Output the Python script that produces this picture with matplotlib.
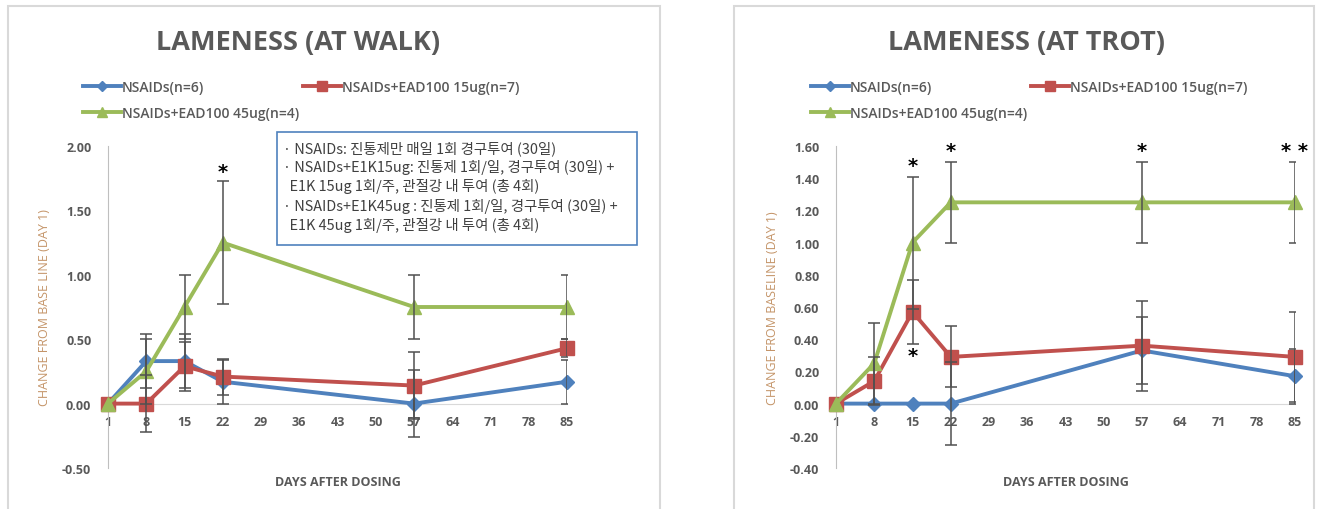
import numpy as np
import matplotlib.pyplot as plt
from matplotlib.lines import Line2D
from matplotlib.patches import Rectangle

# data
days = [1, 8, 15, 22, 57, 85]
day_ticks = list(range(1, 86, 7))

walk_nsaid = [0, 0.33, 0.33, 0.17, 0.0, 0.17]
walk_nsaid_err = [0, 0.21, 0.21, 0.17, 0.26, 0.17]
walk_15ug = [0, 0.0, 0.29, 0.21, 0.14, 0.43]
walk_15ug_err = [0, 0.22, 0.19, 0.14, 0.26, 0.07]
walk_45ug = [0, 0.25, 0.75, 1.25, 0.75, 0.75]
walk_45ug_err = [0, 0.25, 0.25, 0.48, 0.25, 0.25]

trot_nsaid = [0, 0.0, 0.0, 0.0, 0.33, 0.17]
trot_nsaid_err = [0, 0, 0, 0.26, 0.21, 0.17]
trot_15ug = [0, 0.14, 0.57, 0.29, 0.36, 0.29]
trot_15ug_err = [0, 0.15, 0.20, 0.19, 0.28, 0.28]
trot_45ug = [0, 0.25, 1.0, 1.25, 1.25, 1.25]
trot_45ug_err = [0, 0.25, 0.41, 0.25, 0.25, 0.25]

walk_stars = [(22, 1.80, '*')]
trot_stars = [(15, 1.48, '*'), (22, 1.57, '*'), (57, 1.57, '*'), (85, 1.57, '* *'), (15, 0.30, '*')]

labels = ['NSAIDs(n=6)', 'NSAIDs+EAD100 15ug(n=7)', 'NSAIDs+EAD100 45ug(n=4)']
colors = ['#4F81BD', '#C0504D', '#9BBB59']
markers = ['D', 's', '^']
msizes = [7, 10, 10]

note_lines = [
    '· NSAIDs: 진통제만 매일 1회 경구투여 (30일)',
    '· NSAIDs+E1K15ug: 진통제 1회/일, 경구투여 (30일) +',
    '  E1K 15ug 1회/주, 관절강 내 투여 (총 4회)',
    '· NSAIDs+E1K45ug : 진통제 1회/일, 경구투여 (30일) +',
    '  E1K 45ug 1회/주, 관절강 내 투여 (총 4회)',
]

plt.rcParams['font.family'] = ['Open Sans', 'DejaVu Sans']
gray = '#595959'
W, H = 1318, 510

fig = plt.figure(figsize=(W / 100, H / 100), dpi=100)


def fx(px):
    return px / W


def fy(py):
    return 1 - py / H


def panel(x0, title, series, errs, ylim, yticks, ylabel, stars, frame):
    # chart frame
    fig.patches.append(Rectangle((fx(frame[0]), fy(frame[3])), fx(frame[2] - frame[0]),
                                 fy(frame[1]) - fy(frame[3]), transform=fig.transFigure,
                                 fill=False, edgecolor='#D9D9D9', linewidth=1.5))
    ax = fig.add_axes([fx(x0), fy(469), fx(459), fy(147) - fy(469)])
    for vals, err, c, m, ms in zip(series, errs, colors, markers, msizes):
        ax.plot(days, vals, color=c, lw=2.8, marker=m, ms=ms, zorder=3, clip_on=False)
        idx = [i for i, e in enumerate(err) if e > 0]
        ax.errorbar([days[i] for i in idx], [vals[i] for i in idx],
                    yerr=[err[i] for i in idx], fmt='none', ecolor='#505050',
                    elinewidth=1.1, capsize=4, capthick=1.1, zorder=4)
    for d, v, s in stars:
        ax.text(d, v, s, ha='center', va='center', fontsize=14, fontweight='bold',
                family='DejaVu Sans', color='black')
    ax.set_xlim(1, 85)
    ax.set_ylim(*ylim)
    ax.set_xticks(day_ticks)
    ax.set_yticks(yticks)
    ax.set_yticklabels(['%.2f' % t for t in yticks])
    ax.spines['top'].set_visible(False)
    ax.spines['right'].set_visible(False)
    ax.spines['bottom'].set_position(('data', 0))
    ax.spines['bottom'].set_color('#D9D9D9')
    ax.spines['left'].set_color('#BFBFBF')
    ax.tick_params(length=0, labelsize=9, labelcolor=gray)
    ax.tick_params(axis='x', pad=8)
    ax.tick_params(axis='y', pad=12)
    for t in ax.get_xticklabels() + ax.get_yticklabels():
        t.set_fontweight('bold')
    ax.set_ylabel(ylabel, color='#C49468', fontsize=9, labelpad=8)
    fig.text(fx(x0 + 230), fy(483), 'DAYS AFTER DOSING', ha='center', va='center',
             fontsize=9, fontweight='bold', color=gray)
    fig.text(fx(x0 + 190), fy(43), title, ha='center', va='center', fontsize=19.5,
             fontweight='bold', color=gray)
    handles = [Line2D([], [], color=c, lw=2.8, marker=m, ms=ms * 0.7)
               for c, m, ms in zip(colors, markers, msizes)]
    order = [0, 2, 1]
    fig.legend([handles[i] for i in order], [labels[i] for i in order], ncol=2,
               loc='upper left', bbox_to_anchor=(fx(x0 - 25), fy(81)), frameon=False,
               prop={'size': 10, 'weight': 'semibold'}, handlelength=2.7,
               handletextpad=0.1, columnspacing=0.3, labelspacing=0.85,
               borderpad=0, borderaxespad=0, labelcolor=gray)
    return ax


ax1 = panel(108, 'LAMENESS (AT WALK)', [walk_nsaid, walk_15ug, walk_45ug],
            [walk_nsaid_err, walk_15ug_err, walk_45ug_err], (-0.5, 2.0),
            np.arange(-0.5, 2.01, 0.5), 'CHANGE FROM BASE LINE (DAY 1)', walk_stars,
            (8, 7, 660, 515))
ax2 = panel(836, 'LAMENESS (AT TROT)', [trot_nsaid, trot_15ug, trot_45ug],
            [trot_nsaid_err, trot_15ug_err, trot_45ug_err], (-0.4, 1.6),
            np.arange(-0.4, 1.61, 0.2), 'CHANGE FROM BASELINE (DAY 1)', trot_stars,
            (734, 7, 1314, 515))

# note box on the walk chart
fig.patches.append(Rectangle((fx(277), fy(246)), fx(360), fy(133) - fy(246),
                             transform=fig.transFigure, facecolor='white',
                             edgecolor='#4F81BD', linewidth=1.2, zorder=5))
fig.text(fx(283), fy(141), '\n'.join(note_lines), ha='left', va='top', fontsize=10.4,
         family=['Noto Sans CJK KR', 'DejaVu Sans'], color='#404040',
         linespacing=1.36, zorder=6)

fig.savefig('out.png', dpi=100)
